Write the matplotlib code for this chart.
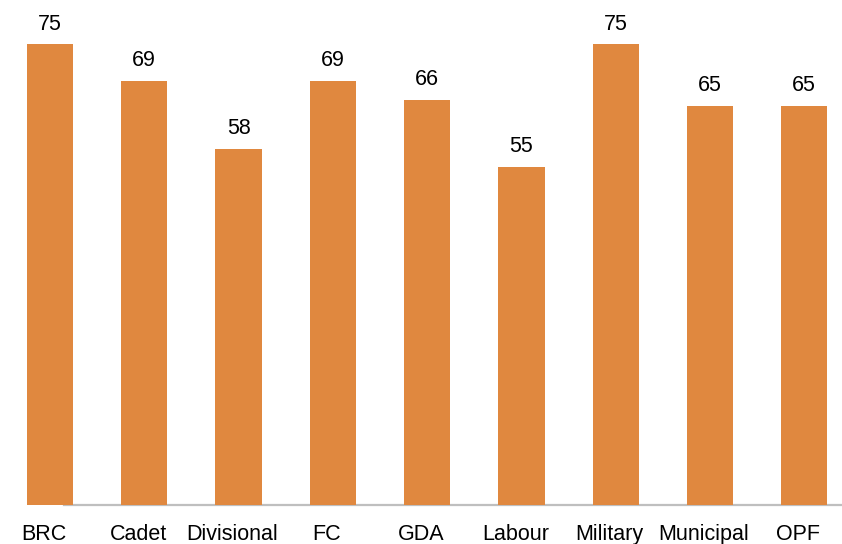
import matplotlib.pyplot as plt
import matplotlib.transforms as mtransforms
import numpy as np

# units and their scores
units = ['BRC', 'Cadet', 'Divisional', 'FC', 'GDA', 'Labour', 'Military', 'Municipal', 'OPF']
scores = [75, 69, 58, 69, 66, 55, 75, 65, 65]

plt.rcParams['font.family'] = ['Liberation Sans', 'DejaVu Sans']

fig = plt.figure(figsize=(8.42, 5.44), dpi=100)
ax = fig.add_axes([0, 39 / 544, 1, 505 / 544])

x = np.arange(len(units))
bars = ax.bar(x, scores, width=0.49, color='#E0883F', zorder=2)
ax.bar_label(bars, labels=[str(v) for v in scores], padding=7, fontsize=15.5)

ax.set_xlim(-0.53, 8.40)
ax.set_ylim(0, 82.2)

for side in ['top', 'right', 'left']:
    ax.spines[side].set_visible(False)
ax.spines['bottom'].set_color('#BFBFBF')
ax.spines['bottom'].set_linewidth(1.6)
ax.spines['bottom'].set_bounds(0.15, 8.40)
ax.spines['bottom'].set_zorder(1)

ax.set_yticks([])
ax.set_xticks(x)
ax.set_xticklabels(units, fontsize=15.5)
ax.tick_params(axis='x', length=0, pad=14)

# category names sit a touch left of the bar centres
shift = mtransforms.ScaledTranslation(-6 / 100, 0, fig.dpi_scale_trans)
for lbl in ax.get_xticklabels():
    lbl.set_transform(lbl.get_transform() + shift)

fig.savefig('out.png', dpi=100)
